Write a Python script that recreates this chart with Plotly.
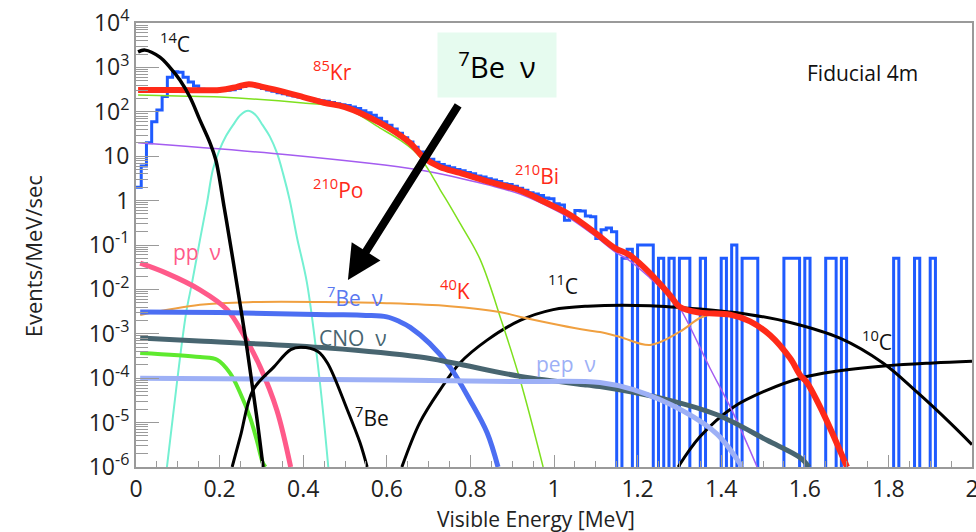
import numpy as np
import plotly.graph_objects as go

# ---------------- data ----------------
# measured spectrum, bin width 0.0125 MeV, values for bins starting at 0.0
hist_width = 0.0125
hist_low_vals = [2, 6, 20, 60, 110, 220, 600, 800, 780, 600, 470, 380, 320, 300, 295, 295,
                 300, 305, 315, 335, 370, 400, 395, 365, 335, 310, 290, 270, 255, 240, 228, 215,
                 205, 195, 185, 178, 172, 162, 152, 145, 138, 128, 118, 106, 95, 84, 72, 60,
                 50, 41, 33, 26, 21, 16, 12.5, 10, 8.5, 7.3, 6.5, 5.9, 5.5, 5.0, 4.7, 4.3,
                 4.0, 3.6, 3.4, 3.1, 2.9, 2.7, 2.4, 2.3, 2.1, 1.9, 1.7, 1.5, 1.4, 1.3, 1.15, 1.1,
                 0.85, 0.8, 0.36, 0.45, 0.6, 0.58, 0.45, 0.43, 0.14, 0.22, 0.24, 0.2]
# sparse high-energy bins (left edge, MeV) that have counts; all others are empty
hist_hi_bins = [1.1625, 1.175, 1.2, 1.2125, 1.225, 1.25, 1.275, 1.3, 1.3125, 1.35, 1.4, 1.425,
                1.45, 1.4625, 1.475, 1.55, 1.5625, 1.575, 1.6, 1.65, 1.6625, 1.6875, 1.8125,
                1.8625, 1.9]
hist_hi_vals = [0.05, 0.08, 0.1, 0.1, 0.1, 0.05, 0.05, 0.05, 0.05, 0.05, 0.05, 0.1,
                0.05, 0.05, 0.05, 0.05, 0.05, 0.05, 0.05, 0.05, 0.05, 0.05, 0.05,
                0.05, 0.05]

# total fit
red_E = [0.005, 0.1, 0.2, 0.24, 0.27, 0.30, 0.33, 0.4, 0.45, 0.5, 0.584, 0.655, 0.69, 0.727,
         0.775, 0.847, 0.919, 0.978, 1.038, 1.098, 1.146, 1.18, 1.23, 1.2775, 1.301, 1.349,
         1.421, 1.469, 1.517, 1.565, 1.589, 1.605, 1.643, 1.701]
red_V = [310, 310, 310, 360, 420, 370, 320, 215, 160, 128, 56, 20, 9, 5.7,
         4.2, 2.6, 1.7, 0.93, 0.48, 0.19, 0.085, 0.06, 0.023, 0.0074, 0.004, 0.003,
         0.0027, 0.0019, 0.00093, 0.00028, 0.000117, 8e-5, 1.7e-5, 1e-6]

c14_E = [0.005, 0.0215, 0.057, 0.081, 0.105, 0.129, 0.153, 0.177, 0.191, 0.211, 0.232, 0.266, 0.289, 0.304]
c14_V = [2240, 2450, 1700, 1000, 520, 215, 65, 20, 8.2, 0.7, 0.046, 4.4e-4, 1.3e-5, 1e-6]

kr85_E = [0.005, 0.1, 0.201, 0.4, 0.5, 0.584, 0.632, 0.663, 0.679, 0.703, 0.727, 0.751, 0.775,
          0.823, 0.876, 0.919, 0.974]
kr85_V = [239, 227, 215, 158, 122, 43, 23, 13.8, 9.6, 4.4, 1.8, 0.76, 0.31,
          0.048, 0.00175, 9.1e-5, 1e-6]

po210_E = [0.074, 0.098, 0.12, 0.134, 0.153, 0.17, 0.184, 0.2, 0.215, 0.232, 0.25, 0.268,
           0.286, 0.303, 0.32, 0.337, 0.352, 0.368, 0.385, 0.409, 0.44, 0.46]
po210_V = [1e-6, 8e-5, 0.003, 0.014, 0.13, 0.9, 5, 14, 28, 50, 85, 105,
           85, 50, 28, 12, 4, 1, 0.15, 0.014, 8e-5, 1e-6]

bi210_E = [0.005, 0.369, 0.679, 0.775, 0.847, 0.919, 0.978, 1.038, 1.098, 1.146, 1.18, 1.23,
           1.2775, 1.301, 1.373, 1.428, 1.486]
bi210_V = [20, 10.6, 4.9, 3.2, 2.2, 1.4, 0.8, 0.4, 0.16, 0.07, 0.045, 0.018,
           0.0068, 0.0038, 1.7e-4, 1.7e-5, 1e-6]

pp_E = [0.01, 0.074, 0.153, 0.218, 0.256, 0.297, 0.337, 0.37]
pp_V = [0.039, 0.023, 0.0098, 0.0035, 0.001, 1.8e-4, 1.9e-5, 1e-6]

k40_E = [0.01, 0.153, 0.28, 0.45, 0.6, 0.75, 0.87, 0.92, 1.08, 1.11, 1.158, 1.23, 1.30, 1.35, 1.38, 1.41]
k40_V = [0.00265, 0.0045, 0.0052, 0.0052, 0.0049, 0.0042, 0.0031, 0.0024, 0.0012, 0.0011,
         8.5e-4, 5.6e-4, 0.0011, 0.0023, 0.0028, 0.003]

be7nu_E = [0.01, 0.2, 0.46, 0.55, 0.6, 0.63, 0.656, 0.703, 0.751, 0.799, 0.84, 0.866]
be7nu_V = [0.0031, 0.003, 0.0027, 0.0026, 0.0024, 0.0019, 0.0014, 6e-4, 1.8e-4, 3.2e-5, 5.9e-6, 1e-6]

cno_E = [0.01, 0.15, 0.46, 0.68, 0.76, 0.92, 1.08, 1.11, 1.27, 1.39, 1.51, 1.59, 1.61]
cno_V = [8e-4, 6.9e-4, 4.8e-4, 3e-4, 2.2e-4, 1.1e-4, 7e-5, 6.5e-5, 3.3e-5, 1.5e-5, 4e-6, 1.6e-6, 1e-6]

pep_E = [0.01, 0.46, 0.9, 1.11, 1.19, 1.31, 1.39, 1.45]
pep_V = [1e-4, 9.4e-5, 8.4e-5, 8e-5, 5.5e-5, 1.8e-5, 5.5e-6, 1e-6]

grn_E = [0.01, 0.153, 0.194, 0.225, 0.249, 0.273, 0.289, 0.304, 0.31]
grn_V = [3.7e-4, 3e-4, 2.6e-4, 1.3e-4, 4.7e-5, 1.3e-5, 4e-6, 1.2e-6, 1e-6]

be7_E = [0.23, 0.25, 0.28, 0.33, 0.37, 0.395, 0.435, 0.458, 0.505, 0.536, 0.553]
be7_V = [1e-6, 5e-6, 5.4e-5, 1.8e-4, 4.4e-4, 5e-4, 4e-4, 2.2e-4, 2e-5, 3.5e-6, 1e-6]

c11_E = [0.636, 0.679, 0.727, 0.775, 0.84, 0.919, 0.998, 1.08, 1.23, 1.349, 1.469, 1.565,
         1.684, 1.787, 1.868, 1.947, 2.0]
c11_V = [1e-6, 1e-5, 5.4e-5, 2.2e-4, 7.2e-4, 0.002, 0.0035, 0.0042, 0.0043, 0.0036, 0.0027, 0.0018,
         8e-4, 2.2e-4, 4.9e-5, 1e-5, 3.2e-6]

c10_E = [1.297, 1.349, 1.428, 1.51, 1.589, 1.667, 1.796, 1.907, 2.0]
c10_V = [1e-6, 4.8e-6, 2.2e-5, 5.4e-5, 1e-4, 1.4e-4, 1.9e-4, 2.2e-4, 2.4e-4]

x_tick_vals = [0, 0.2, 0.4, 0.6, 0.8, 1.0, 1.2, 1.4, 1.6, 1.8, 2.0]
x_tick_text = ["0", "0.2", "0.4", "0.6", "0.8", "1", "1.2", "1.4", "1.6", "1.8", "2"]
y_tick_vals = [1e-6, 1e-5, 1e-4, 1e-3, 1e-2, 1e-1, 1, 10, 1e2, 1e3, 1e4]
y_tick_text = ["10<sup>-6</sup>", "10<sup>-5</sup>", "10<sup>-4</sup>", "10<sup>-3</sup>",
               "10<sup>-2</sup>", "10<sup>-1</sup>", "1", "10", "10<sup>2</sup>",
               "10<sup>3</sup>", "10<sup>4</sup>"]

# ---------------- build histogram step line ----------------
n_bins = int(round(2.0 / hist_width))
vals = [1e-9] * n_bins
for i, v in enumerate(hist_low_vals):
    vals[i] = v
for e, v in zip(hist_hi_bins, hist_hi_vals):
    vals[int(round(e / hist_width))] = v
hx = [i * hist_width for i in range(n_bins)] + [2.0]
hy = vals + [vals[-1]]

FONT = "Open Sans"
NB = "\u00a0"
fig = go.Figure()


def add(x, y, color, width, shape="spline"):
    fig.add_trace(go.Scatter(x=x, y=y, mode="lines",
                             line=dict(color=color, width=width, shape=shape),
                             hoverinfo="skip", showlegend=False))


add(hx, hy, "#1f5bff", 3, "hv")
add(c10_E, c10_V, "#000000", 3)
add(c11_E, c11_V, "#000000", 3)
add(po210_E, po210_V, "#74f0d2", 2)
add(bi210_E, bi210_V, "#a45cf0", 1.5)
add(kr85_E, kr85_V, "#7ee01e", 1.5)
add(k40_E, k40_V, "#f0a040", 2)
add(pp_E, pp_V, "#ff5a8a", 5)
add(grn_E, grn_V, "#5eea2e", 4)
add(be7nu_E, be7nu_V, "#4c6ef2", 5)
add(cno_E, cno_V, "#486570", 5)
add(pep_E, pep_V, "#9db0f6", 5)
add(be7_E, be7_V, "#000000", 3)
add(red_E, red_V, "#ff2a18", 6)
add(c14_E, c14_V, "#000000", 3.5)

grey = "#9a9a9a"
fig.update_xaxes(range=[0, 2], tickmode="array", tickvals=x_tick_vals, ticktext=x_tick_text,
                 automargin=False, ticklabeloverflow="allow",
                 ticks="inside", ticklen=12, tickcolor=grey, tickwidth=1,
                 minor=dict(ticks="inside", tickmode="linear", tick0=0, dtick=0.05, ticklen=6,
                            tickcolor=grey, showgrid=False),
                 showline=True, linecolor=grey, linewidth=2, mirror=True,
                 showgrid=False, zeroline=False,
                 tickfont=dict(family=FONT, size=23, color="#222"))
minor_vals = [m * 10.0 ** d for d in range(-6, 4) for m in range(2, 10)]
fig.update_yaxes(type="log", range=[-6, 4], tickmode="array", tickvals=y_tick_vals,
                 ticktext=y_tick_text, automargin=False, ticklabeloverflow="allow",
                 ticks="inside", ticklen=23, tickcolor=grey, tickwidth=1,
                 minor=dict(ticks="inside", tickmode="array", tickvals=minor_vals, ticklen=12,
                            tickcolor=grey, showgrid=False),
                 showline=True, linecolor=grey, linewidth=2, mirror=True,
                 showgrid=False, zeroline=False,
                 tickfont=dict(family=FONT, size=23, color="#222"))


def label(text, x, ylog, color, size=21):
    fig.add_annotation(x=x, y=ylog, text=text, showarrow=False, xref="x", yref="y",
                       xanchor="center", yanchor="middle",
                       font=dict(family=FONT, size=size, color=color))


label("<sup>14</sup>C", 0.093, 3.57, "#111")
label("<sup>85</sup>Kr", 0.471, 2.94, "#ff2a18")
label("<sup>210</sup>Po", 0.483, 0.28, "#ff2a18")
label("<sup>210</sup>Bi", 0.959, 0.58, "#ff2a18")
label("pp" + NB * 2 + "ν", 0.146, -1.16, "#ff5a8a")
label("<sup>7</sup>Be" + NB * 2 + "ν", 0.524, -2.17, "#5a78f0")
label("<sup>40</sup>K", 0.763, -2.01, "#ff2a18")
label("<sup>11</sup>C", 1.021, -1.90, "#111")
label("CNO" + NB * 2 + "ν", 0.519, -3.09, "#486570")
label("pep" + NB * 2 + "ν", 1.029, -3.68, "#9db0f6")
label("<sup>7</sup>Be", 0.565, -4.87, "#111")
label("<sup>10</sup>C", 1.773, -3.14, "#111")
label("Fiducial 4m", 1.737, 2.87, "#111", 21)

# boxed 7Be nu label and arrow
fig.add_annotation(x=0.864, y=3.05, text="<sup>7</sup>Be" + NB * 2 + "ν", showarrow=False,
                   font=dict(family=FONT, size=29, color="#000"),
                   bgcolor="#e6fbef", width=112, height=58, borderpad=3)
fig.add_annotation(x=0.507, y=-1.79, ax=0.773, ay=2.18, axref="x", ayref="y",
                   xref="x", yref="y", text="", showarrow=True,
                   arrowhead=2, arrowsize=0.85, arrowwidth=8, arrowcolor="#000")

# axis titles
fig.add_annotation(x=0.478, y=-0.118, xref="paper", yref="paper", text="Visible Energy [MeV]",
                   showarrow=False, xanchor="center", yanchor="middle",
                   font=dict(family=FONT, size=21, color="#222"))
fig.add_annotation(x=-0.123, y=0.475, xref="paper", yref="paper", text="Events/MeV/sec",
                   showarrow=False, textangle=-90, xanchor="center", yanchor="middle",
                   font=dict(family=FONT, size=22, color="#222"))

fig.update_layout(width=976, height=532, margin=dict(l=136, r=4, t=23, b=65, autoexpand=False),
                  paper_bgcolor="white", plot_bgcolor="white", showlegend=False)

fig.write_html("out.html", config={"displayModeBar": False, "staticPlot": True},
               post_script="document.body.style.margin='0';document.body.style.overflow='hidden';")
